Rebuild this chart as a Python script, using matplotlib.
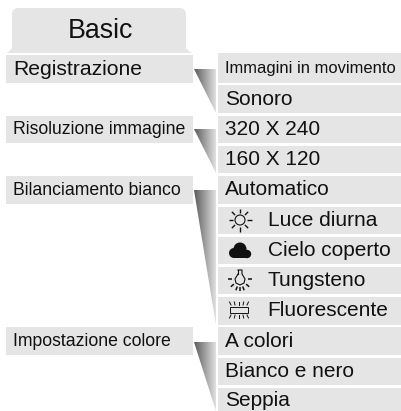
import numpy as np
import matplotlib
matplotlib.use("Agg")
import matplotlib.pyplot as plt
from matplotlib.patches import Rectangle, Polygon, Circle, PathPatch
from matplotlib.path import Path

plt.rcParams['font.family'] = ['Liberation Sans', 'DejaVu Sans']

# menu text
title = 'Basic'
left_labels = ['Registrazione', 'Risoluzione immagine', 'Bilanciamento bianco', 'Impostazione colore']
right_labels = ['Immagini in movimento', 'Sonoro', '320 X 240', '160 X 120', 'Automatico',
                'Luce diurna', 'Cielo coperto', 'Tungsteno', 'Fluorescente',
                'A colori', 'Bianco e nero', 'Seppia']

# pixel layout
left_top = [55, 116, 176, 327]
left_bot = [83, 143, 204, 355]
left_base = [75, 134, 195, 346]
left_size = [15.2, 12.7, 12.7, 12.7]
right_top = [53, 85, 116, 146, 176, 207, 237, 267, 297, 327, 358, 388]
right_bot = [83, 113, 143, 173, 204, 234, 264, 294, 325, 355, 385, 411]
right_base = [73, 105, 135, 165, 195, 226, 256, 286, 316, 347, 377, 406]
right_size = [11.9, 15, 15, 15, 15, 15, 15, 15, 15, 15, 15, 15]
right_x = [225, 225, 225, 225, 225, 268, 268, 268, 267, 225, 225, 225]
wedge_top = [69, 129, 190, 342]
wedge_bot = [113, 173, 325, 411]

BG = '#e5e5e5'
INK = '#111111'

fig = plt.figure(figsize=(4.01, 4.11), dpi=100)
ax = fig.add_axes([0, 0, 1, 1])
ax.set_xlim(0, 401)
ax.set_ylim(411, 0)
ax.axis('off')

# tab with rounded top
tab = Path([(7, 53), (10, 51), (12, 48), (12, 14), (12, 8), (19, 8), (179, 8), (186, 8), (186, 14),
            (186, 48), (188, 51), (192, 53), (7, 53)],
           [Path.MOVETO, Path.CURVE3, Path.CURVE3, Path.LINETO, Path.CURVE3, Path.CURVE3, Path.LINETO,
            Path.CURVE3, Path.CURVE3, Path.LINETO, Path.CURVE3, Path.CURVE3, Path.CLOSEPOLY])
ax.add_patch(PathPatch(tab, fc=BG, ec='none'))
ax.text(100, 38, title, fontsize=19.3, color=INK, ha='center', va='baseline')

for lab, t, b, base, size in zip(left_labels, left_top, left_bot, left_base, left_size):
    ax.add_patch(Rectangle((6, t), 187, b - t, fc=BG, ec='none'))
    ax.text(13, base, lab, fontsize=size, color=INK, va='baseline')

for lab, t, b, base, size, x in zip(right_labels, right_top, right_bot, right_base, right_size, right_x):
    ax.add_patch(Rectangle((218, t), 183, b - t, fc=BG, ec='none'))
    ax.text(x, base, lab, fontsize=size, color=INK, va='baseline')

# gradient wedges joining left and right columns
grad = np.linspace(0.36, 0.88, 64).reshape(1, -1)
for t, b in zip(wedge_top, wedge_bot):
    im = ax.imshow(grad, extent=(194, 216, b, t), cmap='gray', vmin=0, vmax=1, aspect='auto', zorder=2)
    poly = Polygon([(194, t), (216, t), (216, b)], closed=True, transform=ax.transData, fc='none', ec='none')
    ax.add_patch(poly)
    im.set_clip_path(poly)
ax.set_xlim(0, 401)
ax.set_ylim(411, 0)


def rays(cx, cy, r0, r1, angles, lw=1.0):
    for a in np.radians(angles):
        ax.plot([cx + r0 * np.cos(a), cx + r1 * np.cos(a)], [cy + r0 * np.sin(a), cy + r1 * np.sin(a)],
                color=INK, lw=lw, solid_capstyle='butt')


# sun icon
ax.add_patch(Circle((240, 220), 5, fc='none', ec=INK, lw=0.8))
rays(240, 220, 7, 11.5, np.arange(0, 360, 45))

# cloud icon
for c, r in [((240, 249), 6.5), ((234, 253), 5), ((247, 254), 4.2)]:
    ax.add_patch(Circle(c, r, fc=INK, ec='none'))
ax.add_patch(Rectangle((233, 252), 14, 6, fc=INK, ec='none'))

# tungsten icon, teardrop bulb
ax.plot([238, 238, 242, 242, 245, 244, 240, 236, 235, 238],
        [270, 270, 270, 274, 279, 283, 285, 283, 279, 274], color=INK, lw=0.8)
ax.plot([238, 238], [270, 274], color=INK, lw=0.8)
rays(240, 279, 8, 12, [0, 180], lw=1.1)
rays(240, 279, 8, 12, [40, 70, 90, 110, 140], lw=1.1)

# fluorescent icon
ax.add_patch(Rectangle((230, 307), 18, 6, fc='none', ec=INK, lw=0.7))
for x, d in zip([231, 235, 239, 243, 247], [-1.5, -0.7, 0, 0.7, 1.5]):
    ax.plot([x, x + d], [305, 302], color=INK, lw=0.7)
    ax.plot([x, x + d], [315, 318], color=INK, lw=0.7)

fig.savefig('out.png', dpi=100)
